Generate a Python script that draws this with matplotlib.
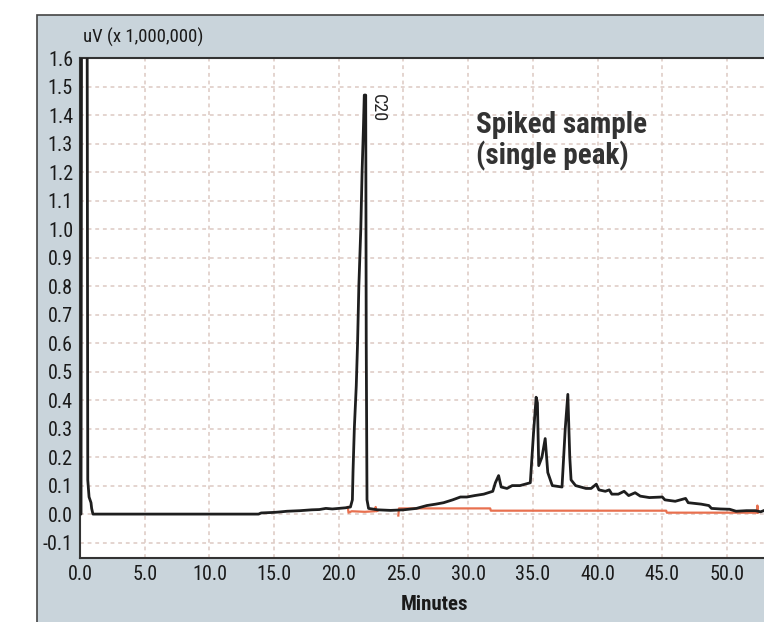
import numpy as np
import matplotlib.pyplot as plt
from matplotlib.patches import Rectangle
from matplotlib import font_manager

# Trazas del cromatograma (minutos, uV x 1e6)
t_black = [0.0, 0.08, 0.12, 0.55, 0.6, 0.7, 0.85, 0.9, 1.0, 13.8, 14.0, 15.0, 15.3, 16.0,
           17.0, 17.9, 18.5, 19.0, 19.5, 20.0, 20.5, 20.9, 21.05, 21.1, 21.2, 21.35, 21.45,
           21.55, 21.7, 21.8, 21.9, 21.97, 22.08, 22.12, 22.18, 22.3, 23.0, 24.0, 25.0,
           26.0, 26.8, 27.5, 28.1, 28.8, 29.4, 29.9, 30.5, 31.2, 31.9, 32.1, 32.35, 32.55,
           33.0, 33.4, 34.0, 34.4, 34.8, 35.05, 35.25, 35.35, 35.45, 35.7, 35.95, 36.15,
           36.5, 37.25, 37.5, 37.7, 37.85, 37.95, 38.3, 38.7, 39.1, 39.5, 39.9, 40.1, 40.6,
           40.9, 41.1, 41.6, 42.05, 42.4, 42.9, 43.3, 44.0, 45.0, 45.2, 46.0, 46.8, 47.0,
           48.0, 48.6, 48.8, 49.5, 50.2, 50.7, 51.5, 52.2, 52.6, 53.0]
v_black = [0.0, 0.0, 1.8, 1.8, 0.12, 0.06, 0.04, 0.02, 0.0, 0.0, 0.004, 0.006, 0.007, 0.01,
           0.012, 0.015, 0.016, 0.02, 0.018, 0.02, 0.022, 0.025, 0.05, 0.15, 0.3, 0.45, 0.6,
           0.8, 1.0, 1.2, 1.35, 1.47, 1.47, 0.6, 0.05, 0.02, 0.015, 0.013, 0.015,
           0.02, 0.03, 0.035, 0.04, 0.05, 0.06, 0.06, 0.065, 0.07, 0.08, 0.11, 0.135, 0.095,
           0.09, 0.1, 0.1, 0.105, 0.11, 0.285, 0.41, 0.39, 0.17, 0.2, 0.265, 0.146,
           0.10, 0.095, 0.30, 0.42, 0.2, 0.12, 0.10, 0.095, 0.09, 0.09, 0.105, 0.085, 0.08,
           0.085, 0.07, 0.07, 0.08, 0.065, 0.075, 0.063, 0.058, 0.06, 0.05, 0.045, 0.055, 0.04,
           0.035, 0.03, 0.02, 0.018, 0.017, 0.01, 0.012, 0.012, 0.008, 0.015]

t_red = [20.7, 20.75, 21.0, 22.0, 22.8, 22.85, 22.9, 23.0, np.nan,
         24.6, 24.65, 31.7, 31.75, 45.3, 45.35, 52.3, 52.35, 52.4]
v_red = [0.025, 0.005, 0.01, 0.008, 0.01, 0.025, 0.01, 0.012, np.nan,
         -0.005, 0.02, 0.02, 0.012, 0.012, 0.005, 0.005, 0.03, 0.005]

x_ticks = [0, 5, 10, 15, 20, 25, 30, 35, 40, 45, 50]
y_ticks = [-0.1, 0.0, 0.1, 0.2, 0.3, 0.4, 0.5, 0.6, 0.7, 0.8, 0.9, 1.0,
           1.1, 1.2, 1.3, 1.4, 1.5, 1.6]

# fuente estrecha si existe
instaladas = {f.name for f in font_manager.fontManager.ttflist}
fuente = [f for f in ['Liberation Sans Narrow', 'Roboto Condensed', 'Roboto', 'DejaVu Sans']
          if f in instaladas]
gris = '#c9d4db'

W, H = 764, 622
fig = plt.figure(figsize=(W / 100, H / 100), dpi=100)
fig.patches.append(Rectangle((37 / W, -0.01), 1.0, 1 - 15 / H + 0.01, transform=fig.transFigure,
                             facecolor=gris, edgecolor='#444444', linewidth=1.2, zorder=-5))

ax = fig.add_axes([80 / W, (H - 558) / H, (W - 80) / W, (558 - 58) / H])
ax.set_zorder(2)
ax.set_facecolor('white')
ax.plot(t_red, v_red, color='#e8704f', linewidth=1.6, zorder=2)
ax.plot(t_black, v_black, color='#1e1e1e', linewidth=2.0, zorder=3)

ax.set_xlim(0, 52.86)
ax.set_ylim(-0.154, 1.6)
ax.set_xticks(x_ticks)
ax.set_xticklabels([f'{v:.1f}' for v in x_ticks], family=fuente, fontsize=14.5, color='#1a1a1a')
ax.set_yticks(y_ticks)
ax.set_yticklabels([f'{v:.1f}' for v in y_ticks], family=fuente, fontsize=14.5, color='#1a1a1a')
ax.tick_params(length=0, pad=5)
ax.grid(True, color='#dcc9c2', linestyle=(0, (2.5, 2.5)), linewidth=1.1)
ax.set_axisbelow(True)
for s in ['left', 'top', 'bottom']:
    ax.spines[s].set_color('#333333')
    ax.spines[s].set_linewidth(1.5)
ax.spines['right'].set_visible(False)

ax.text(22.3, 1.475, 'C20', rotation=270, ha='left', va='top', family=fuente,
        fontsize=13, color='#222222')
ax.text(30.6, 1.415, 'Spiked sample\n(single peak)', ha='left', va='top', family=fuente,
        fontsize=21, fontweight='bold', color='#333333', linespacing=1.1)

fig.text(83 / W, 1 - 37 / H, 'uV (x 1,000,000)', family=fuente, fontsize=13.5,
         ha='left', va='center', color='#1a1a1a')
fig.text(434 / W, 1 - 605 / H, 'Minutes', family=fuente, fontsize=15, fontweight='bold',
         ha='center', va='center', color='#1a1a1a')

fig.savefig('out.png', dpi=100)
